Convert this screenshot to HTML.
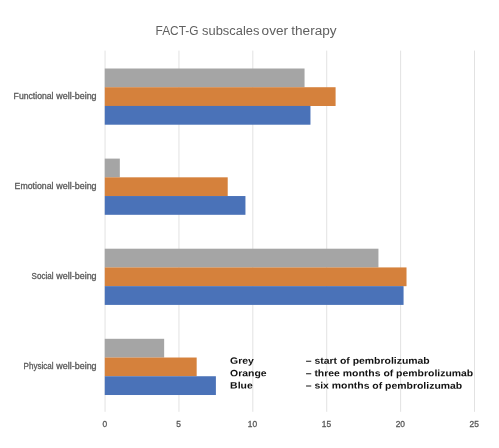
<!DOCTYPE html>
<html><head><meta charset="utf-8"><title>FACT-G subscales over therapy</title>
<style>
html,body{margin:0;padding:0;background:#fff;}
body{width:499px;height:448px;overflow:hidden;}
svg{display:block;}
text{font-family:"Liberation Sans",sans-serif;}
.title{font-size:12.3px;fill:#606060;}
.cat{font-size:8.4px;fill:#5a5a5a;stroke:#5a5a5a;stroke-width:0.3px;}
.tick{font-size:8.4px;fill:#5a5a5a;stroke:#5a5a5a;stroke-width:0.3px;}
.leg{font-size:10px;font-weight:bold;fill:#111;}
</style></head><body>
<svg width="499" height="448" viewBox="0 0 499 448">
<rect width="499" height="448" fill="#fff"/>
<rect x="104.55" y="50.6" width="1" height="361.2" fill="#E2E2E2"/>
<rect x="178.44" y="50.6" width="1" height="361.2" fill="#E2E2E2"/>
<rect x="252.33" y="50.6" width="1" height="361.2" fill="#E2E2E2"/>
<rect x="326.22" y="50.6" width="1" height="361.2" fill="#E2E2E2"/>
<rect x="400.11" y="50.6" width="1" height="361.2" fill="#E2E2E2"/>
<rect x="474.00" y="50.6" width="1" height="361.2" fill="#E2E2E2"/>
<rect x="104.75" y="68.50" width="199.80" height="18.77" fill="#A5A5A5"/>
<rect x="104.75" y="87.22" width="230.84" height="18.77" fill="#D5813C"/>
<rect x="104.75" y="105.94" width="205.71" height="18.77" fill="#4A72B8"/>
<text class="cat" x="13.60" y="99.20" textLength="39.90" lengthAdjust="spacingAndGlyphs">Functional</text>
<text class="cat" x="56.30" y="99.20" textLength="40.30" lengthAdjust="spacingAndGlyphs">well-being</text>
<rect x="104.75" y="158.60" width="15.08" height="18.77" fill="#A5A5A5"/>
<rect x="104.75" y="177.32" width="122.96" height="18.77" fill="#D5813C"/>
<rect x="104.75" y="196.04" width="140.69" height="18.77" fill="#4A72B8"/>
<text class="cat" x="14.60" y="189.20" textLength="38.90" lengthAdjust="spacingAndGlyphs">Emotional</text>
<text class="cat" x="56.30" y="189.20" textLength="40.30" lengthAdjust="spacingAndGlyphs">well-being</text>
<rect x="104.75" y="248.70" width="273.69" height="18.77" fill="#A5A5A5"/>
<rect x="104.75" y="267.42" width="301.77" height="18.77" fill="#D5813C"/>
<rect x="104.75" y="286.14" width="298.82" height="18.77" fill="#4A72B8"/>
<text class="cat" x="31.60" y="279.20" textLength="21.90" lengthAdjust="spacingAndGlyphs">Social</text>
<text class="cat" x="56.30" y="279.20" textLength="40.30" lengthAdjust="spacingAndGlyphs">well-being</text>
<rect x="104.75" y="338.80" width="59.41" height="18.77" fill="#A5A5A5"/>
<rect x="104.75" y="357.52" width="91.92" height="18.77" fill="#D5813C"/>
<rect x="104.75" y="376.24" width="111.14" height="18.77" fill="#4A72B8"/>
<text class="cat" x="23.60" y="369.20" textLength="29.90" lengthAdjust="spacingAndGlyphs">Physical</text>
<text class="cat" x="56.30" y="369.20" textLength="40.30" lengthAdjust="spacingAndGlyphs">well-being</text>
<text class="tick" x="104.75" y="427" text-anchor="middle">0</text>
<text class="tick" x="178.64" y="427" text-anchor="middle">5</text>
<text class="tick" x="252.53" y="427" text-anchor="middle">10</text>
<text class="tick" x="326.42" y="427" text-anchor="middle">15</text>
<text class="tick" x="400.31" y="427" text-anchor="middle">20</text>
<text class="tick" x="474.20" y="427" text-anchor="middle">25</text>
<text class="title" x="155.60" y="34.80" textLength="42.90" lengthAdjust="spacingAndGlyphs">FACT-G</text>
<text class="title" x="202.10" y="34.80" textLength="57.30" lengthAdjust="spacingAndGlyphs">subscales</text>
<text class="title" x="261.60" y="34.80" textLength="26.40" lengthAdjust="spacingAndGlyphs">over</text>
<text class="title" x="291.30" y="34.80" textLength="45.30" lengthAdjust="spacingAndGlyphs">therapy</text>
<text class="leg" transform="translate(230.1,363.8) scale(1.045,0.92) rotate(0.03)">Grey</text>
<text class="leg" transform="translate(305.7,363.8) scale(1.045,0.92) rotate(0.03)">– start of pembrolizumab</text>
<text class="leg" transform="translate(230.1,376.2) scale(1.045,0.92) rotate(0.03)">Orange</text>
<text class="leg" transform="translate(305.7,376.2) scale(1.045,0.92) rotate(0.03)">– three months of pembrolizumab</text>
<text class="leg" transform="translate(230.1,388.6) scale(1.045,0.92) rotate(0.03)">Blue</text>
<text class="leg" transform="translate(305.7,388.6) scale(1.045,0.92) rotate(0.03)">– six months of pembrolizumab</text>
</svg>
</body></html>
